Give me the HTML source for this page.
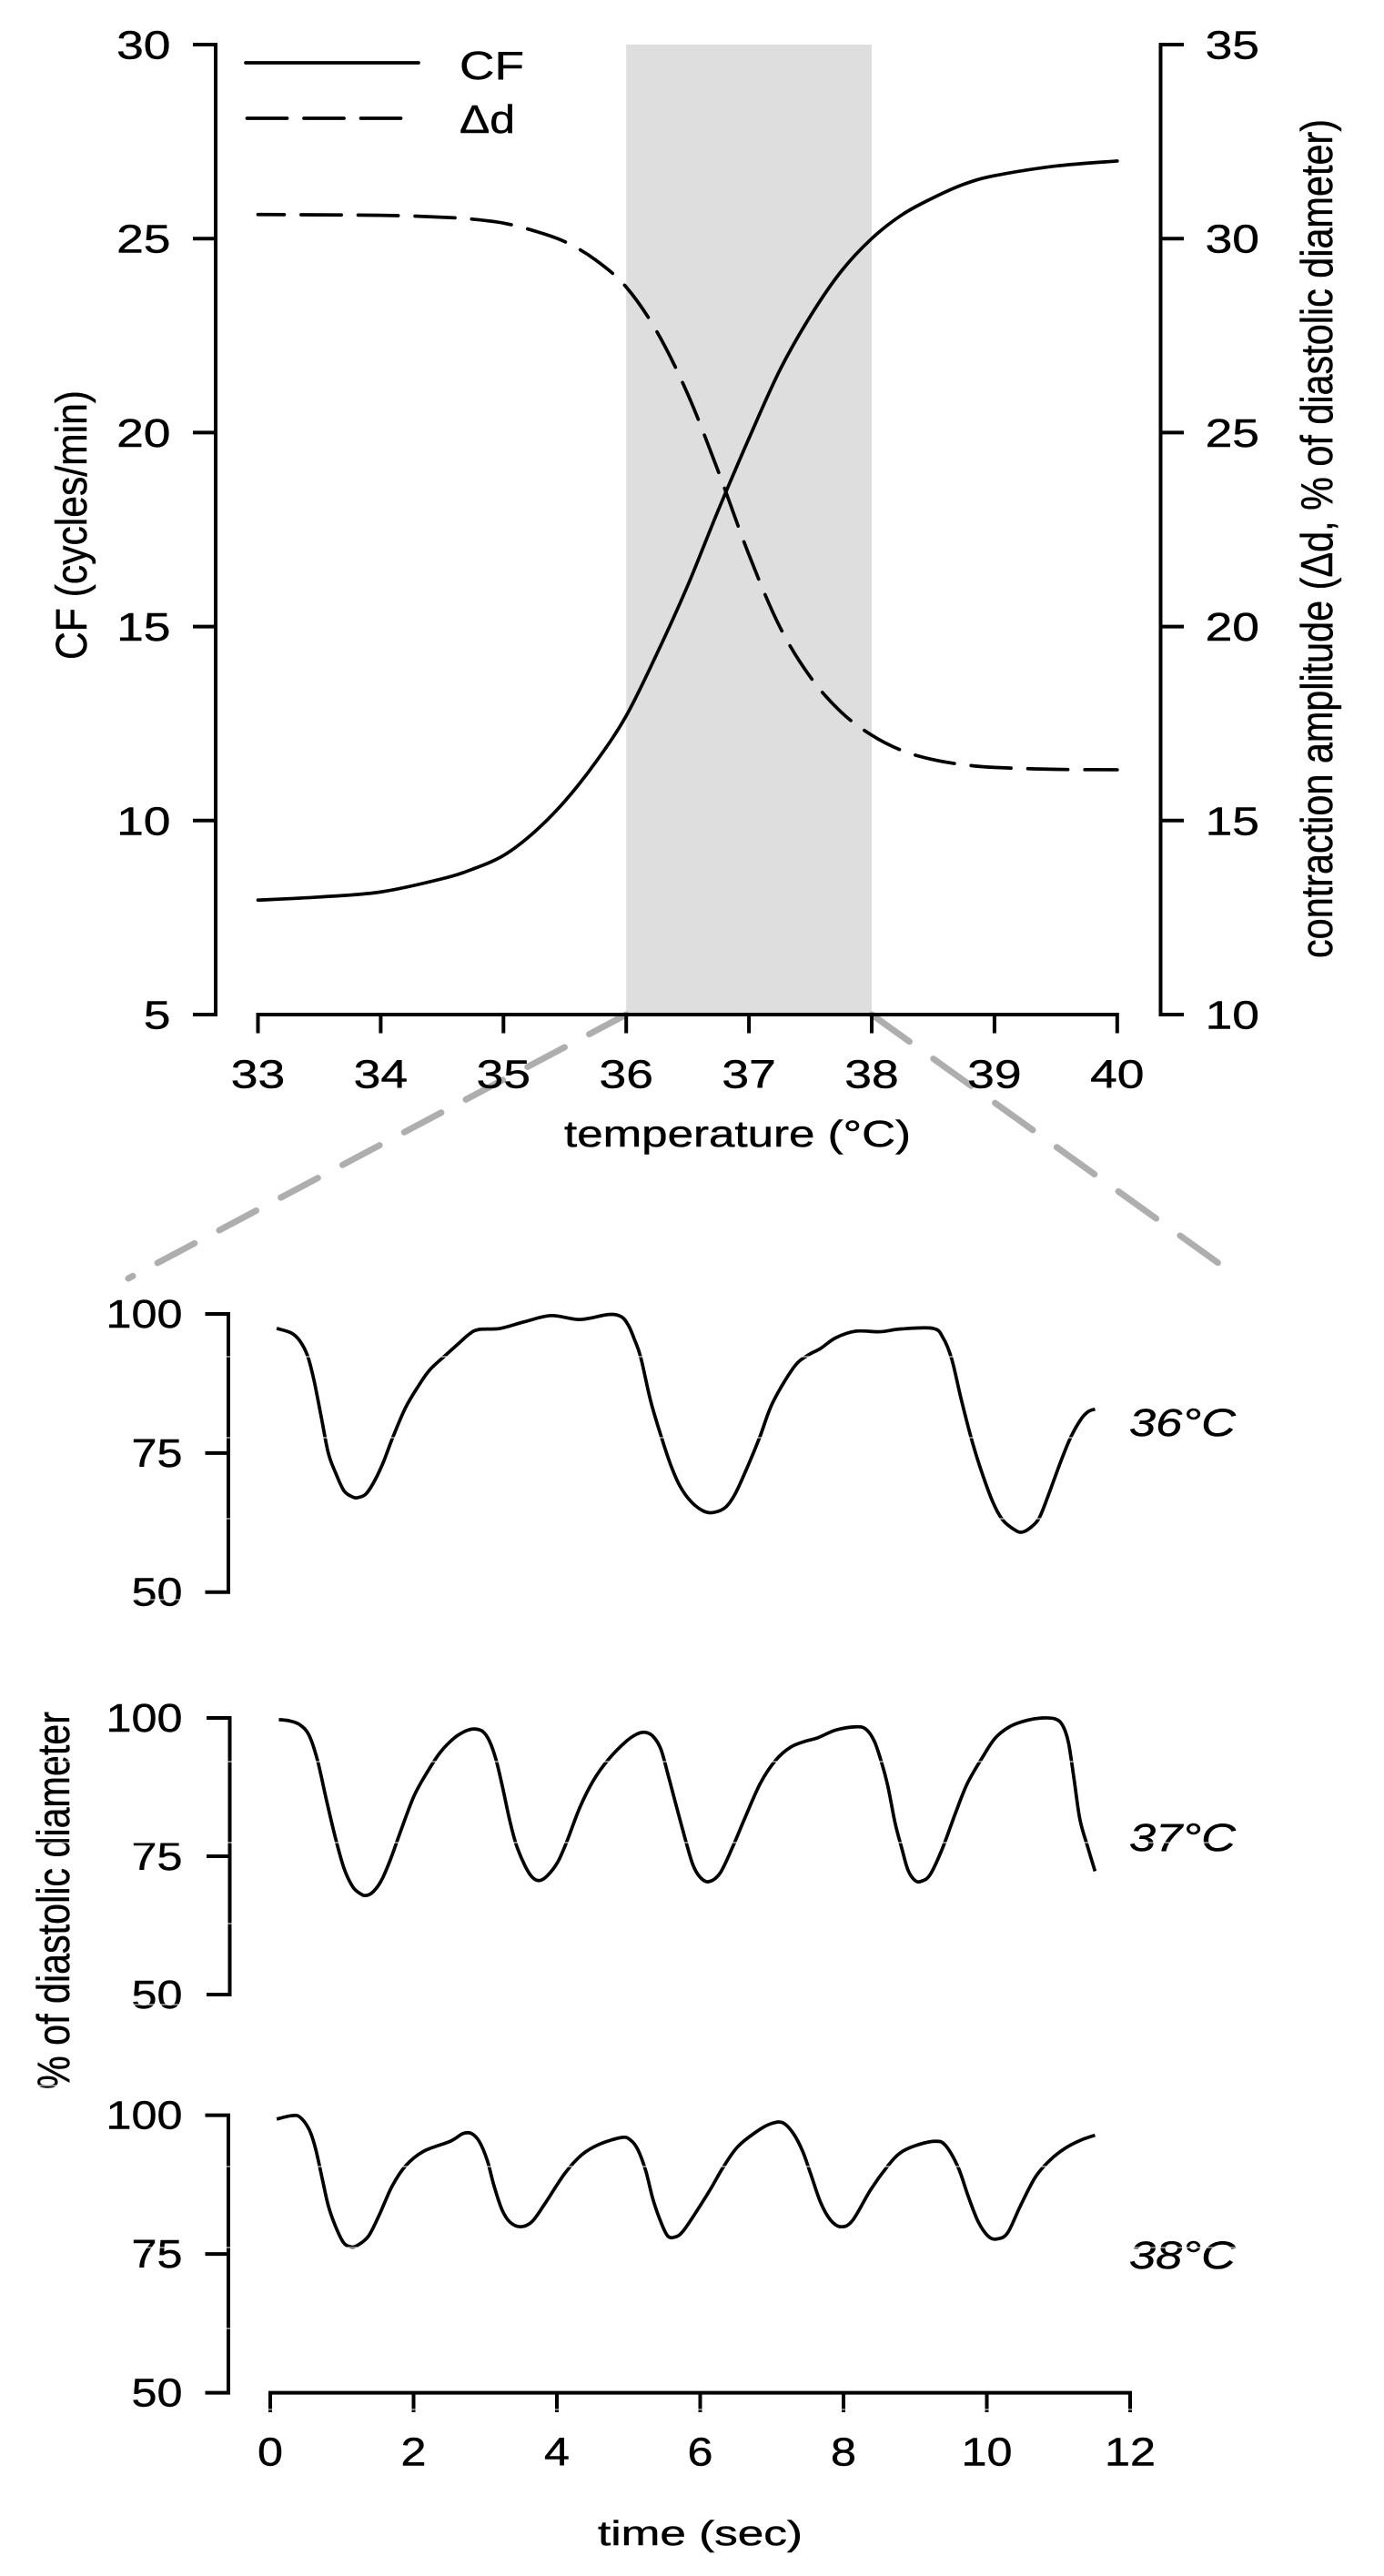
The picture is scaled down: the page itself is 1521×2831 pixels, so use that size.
<!DOCTYPE html>
<html lang="en">
<head>
<meta charset="utf-8">
<title>Contraction frequency and amplitude versus temperature</title>
<style>
html,body{margin:0;padding:0;background:#fff}
svg{display:block}
text{font-family:"Liberation Sans",Arial,sans-serif;fill:#000;stroke:#000;stroke-width:0.45px}
</style>
</head>
<body>
<svg id="fig" xmlns="http://www.w3.org/2000/svg" width="1521" height="2831" viewBox="0 0 1521 2831">
  <rect x="0" y="0" width="1521" height="2831" fill="#fff"/>
  <g id="band"></g>
  <g id="connectors"></g>
  <g id="axes"></g>
  <g id="series"></g>
  <g id="ticklabels"></g>

  <line x1="270" y1="69" x2="460" y2="69" stroke="#000" stroke-width="3.7" stroke-linecap="round"/>
  <line x1="271.5" y1="130" x2="441" y2="130" stroke="#000" stroke-width="3.7" stroke-linecap="round" stroke-dasharray="44 18.5"/>
  <text x="505" y="87" font-size="44" textLength="71" lengthAdjust="spacingAndGlyphs">CF</text>
  <text x="505" y="146" font-size="44" textLength="61" lengthAdjust="spacingAndGlyphs">Δd</text>

  <text transform="translate(95,725) rotate(-90)" font-size="48" textLength="296" lengthAdjust="spacingAndGlyphs">CF (cycles/min)</text>
  <text transform="translate(1464,1053) rotate(-90)" font-size="49" textLength="922" lengthAdjust="spacingAndGlyphs">contraction amplitude (Δd, % of diastolic diameter)</text>
  <text x="620" y="1260" font-size="41" textLength="381" lengthAdjust="spacingAndGlyphs">temperature (°C)</text>
  <text transform="translate(76,2296) rotate(-90)" font-size="50" textLength="415" lengthAdjust="spacingAndGlyphs">% of diastolic diameter</text>
  <text x="657" y="2797" font-size="38" textLength="225" lengthAdjust="spacingAndGlyphs">time (sec)</text>

  <text x="1241" y="1578" font-size="43" font-style="italic" textLength="117" lengthAdjust="spacingAndGlyphs">36°C</text>
  <text x="1241" y="2034" font-size="43" font-style="italic" textLength="117" lengthAdjust="spacingAndGlyphs">37°C</text>
  <text x="1241" y="2493" font-size="43" font-style="italic" textLength="117" lengthAdjust="spacingAndGlyphs">38°C</text>

  <g id="scanlines"></g>
</svg>

<script>
const tempTicks = [33, 34, 35, 36, 37, 38, 39, 40];
const cfTicks = [5, 10, 15, 20, 25, 30];
const ampTicks = [10, 15, 20, 25, 30, 35];
const pctTicks = [50, 75, 100];
const timeTicks = [0, 2, 4, 6, 8, 10, 12];
const bandRange = [36, 38];

const cfTemps = [33, 33.5, 34, 34.5, 34.75, 35, 35.25, 35.5, 35.75, 36, 36.25, 36.5, 36.75, 37, 37.25, 37.5, 37.75, 38, 38.25, 38.5, 38.75, 39, 39.5, 40];
const cfValues = [7.95, 8.03, 8.16, 8.5, 8.75, 9.1, 9.7, 10.5, 11.5, 12.7, 14.3, 16.05, 18.0, 19.85, 21.6, 23.0, 24.15, 25.0, 25.62, 26.05, 26.4, 26.62, 26.87, 27.0];

const ampTemps = [33, 34, 34.5, 34.75, 35, 35.25, 35.5, 35.75, 36, 36.25, 36.5, 36.75, 37, 37.25, 37.5, 37.75, 38, 38.25, 38.5, 38.75, 39, 39.5, 40];
const ampValues = [30.62, 30.6, 30.55, 30.5, 30.4, 30.2, 29.92, 29.45, 28.75, 27.6, 26.0, 24.0, 21.85, 20.0, 18.7, 17.8, 17.2, 16.8, 16.57, 16.44, 16.37, 16.32, 16.31];

const trace36Times = [0.09, 0.29, 0.41, 0.52, 0.61, 0.71, 0.81, 0.91, 1.03, 1.15, 1.23, 1.34, 1.46, 1.58, 1.71, 1.89, 2.08, 2.23, 2.44, 2.63, 2.78, 2.91, 3.21, 3.55, 3.92, 4.32, 4.72, 4.9, 5.0, 5.08, 5.17, 5.31, 5.46, 5.59, 5.72, 5.87, 6.04, 6.18, 6.35, 6.49, 6.67, 6.83, 7.01, 7.3, 7.48, 7.68, 7.89, 8.17, 8.51, 8.8, 9.25, 9.39, 9.51, 9.64, 9.78, 9.91, 10.08, 10.22, 10.4, 10.5, 10.62, 10.73, 10.85, 11.03, 11.17, 11.31, 11.41, 11.51];
const trace36Values = [97.4, 96.6, 95.2, 92.5, 88.1, 81.6, 75.0, 71.5, 68.2, 67.1, 67.0, 67.7, 70.1, 73.4, 77.8, 83.2, 87.3, 90.0, 92.5, 94.7, 96.4, 97.2, 97.4, 98.6, 99.7, 99.0, 99.9, 99.5, 97.9, 95.5, 92.2, 84.3, 77.8, 72.8, 69.0, 66.3, 64.6, 64.3, 65.2, 67.7, 72.8, 77.8, 84.0, 90.3, 92.4, 93.8, 95.7, 96.9, 96.8, 97.3, 97.4, 95.7, 91.9, 84.8, 77.8, 72.3, 66.3, 63.0, 61.1, 60.8, 61.7, 63.3, 67.1, 73.4, 77.8, 81.0, 82.4, 82.9];

const trace37Times = [0.12, 0.26, 0.41, 0.54, 0.66, 0.78, 0.91, 1.03, 1.15, 1.25, 1.33, 1.43, 1.55, 1.68, 1.83, 2.01, 2.2, 2.38, 2.57, 2.72, 2.85, 2.97, 3.06, 3.15, 3.24, 3.34, 3.43, 3.55, 3.65, 3.75, 3.86, 4.01, 4.14, 4.32, 4.51, 4.72, 4.97, 5.12, 5.23, 5.34, 5.45, 5.55, 5.65, 5.8, 5.9, 6.0, 6.12, 6.28, 6.46, 6.63, 6.84, 7.05, 7.26, 7.47, 7.64, 7.89, 8.17, 8.31, 8.43, 8.53, 8.62, 8.72, 8.81, 8.9, 9.0, 9.09, 9.21, 9.38, 9.56, 9.73, 9.95, 10.12, 10.33, 10.57, 10.78, 10.96, 11.06, 11.14, 11.22, 11.3, 11.41, 11.51];
const trace37Values = [99.7, 99.5, 98.8, 96.9, 92.3, 85.4, 78.3, 72.8, 69.5, 68.3, 67.9, 68.5, 70.6, 74.5, 79.9, 86.0, 90.4, 93.9, 96.4, 97.6, 98.0, 97.5, 95.8, 92.5, 87.6, 81.6, 77.2, 73.4, 71.3, 70.6, 71.4, 73.9, 77.7, 83.8, 88.7, 92.5, 95.8, 97.1, 97.4, 96.7, 94.4, 89.8, 84.9, 77.7, 73.4, 71.2, 70.4, 72.0, 76.9, 82.1, 88.2, 92.3, 94.7, 95.8, 96.4, 97.8, 98.4, 98.0, 95.8, 92.0, 87.6, 81.0, 76.6, 72.5, 70.6, 70.5, 71.7, 76.4, 82.7, 88.2, 93.1, 96.4, 98.5, 99.6, 100, 99.8, 98.6, 95.5, 88.7, 81.6, 76.6, 72.3];

const trace38Times = [0.09, 0.29, 0.41, 0.54, 0.63, 0.72, 0.81, 0.91, 1.02, 1.12, 1.21, 1.37, 1.52, 1.7, 1.89, 2.14, 2.51, 2.69, 2.81, 2.92, 3.03, 3.12, 3.23, 3.34, 3.49, 3.65, 3.83, 4.11, 4.35, 4.6, 4.91, 5.03, 5.13, 5.24, 5.34, 5.45, 5.55, 5.66, 5.76, 5.94, 6.14, 6.32, 6.53, 6.84, 7.02, 7.16, 7.3, 7.43, 7.54, 7.68, 7.82, 7.97, 8.13, 8.38, 8.62, 8.79, 9.0, 9.27, 9.42, 9.6, 9.74, 9.88, 10.02, 10.14, 10.29, 10.47, 10.68, 10.89, 11.1, 11.31, 11.51];
const trace38Values = [99.3, 99.9, 99.7, 97.5, 94.1, 88.9, 83.7, 80.0, 77.1, 76.3, 76.5, 78.2, 82.0, 87.2, 90.9, 93.5, 95.3, 96.7, 96.7, 95.2, 91.8, 87.4, 83.1, 80.8, 79.9, 80.8, 84.0, 89.5, 92.9, 94.8, 96.0, 95.5, 93.8, 90.0, 84.9, 80.8, 78.2, 78.1, 79.1, 82.5, 86.6, 90.6, 94.4, 97.5, 98.6, 98.6, 96.7, 93.5, 89.5, 84.3, 81.1, 79.9, 81.1, 86.6, 90.9, 93.2, 94.5, 95.3, 94.6, 90.6, 85.4, 80.8, 78.2, 77.7, 78.8, 83.7, 88.9, 92.0, 94.1, 95.5, 96.4];

const SVGNS = 'http://www.w3.org/2000/svg';
const xTemp = t => 283.5 + (t - 33) * 134.9;
const yCF = v => 1115 - (v - 5) * 42.64;
const yAmp = v => 1115 - (v - 10) * 42.64;
const xTime = t => 297 + t * 78.75;
const panels = [
  { top: 1444, bottom: 1749.7, axisX: 251, name: '36c' },
  { top: 1888, bottom: 2192, axisX: 252.5, name: '37c' },
  { top: 2324.6, bottom: 2629.6, axisX: 251, name: '38c' }
];
const yPct = (panel, v) => panel.bottom - (v - 50) * (panel.bottom - panel.top) / 50;

function make(tag, parent, attrs, name) {
  const el = document.createElementNS(SVGNS, tag);
  for (const k in attrs) el.setAttribute(k, attrs[k]);
  
  
  parent.appendChild(el);
  return el;
}

function smoothPath(xs, ys) {
  let d = 'M' + xs[0].toFixed(2) + ' ' + ys[0].toFixed(2);
  for (let i = 0; i < xs.length - 1; i++) {
    const i0 = Math.max(i - 1, 0), i3 = Math.min(i + 2, xs.length - 1);
    const c1x = xs[i] + (xs[i + 1] - xs[i0]) / 6;
    const c1y = ys[i] + (ys[i + 1] - ys[i0]) / 6;
    const c2x = xs[i + 1] - (xs[i3] - xs[i]) / 6;
    const c2y = ys[i + 1] - (ys[i3] - ys[i]) / 6;
    d += 'C' + c1x.toFixed(2) + ' ' + c1y.toFixed(2) + ' ' + c2x.toFixed(2) + ' ' + c2y.toFixed(2) + ' ' + xs[i + 1].toFixed(2) + ' ' + ys[i + 1].toFixed(2);
  }
  return d;
}

function tickLabel(x, y, str, anchor, charW, name) {
  const el = make('text', document.getElementById('ticklabels'), {
    x: x, y: y, 'font-size': 44, 'text-anchor': anchor,
    textLength: String(str).length * charW, lengthAdjust: 'spacingAndGlyphs'
  }, name);
  el.textContent = str;
}

function axisLine(d, width, name) {
  make('path', document.getElementById('axes'), { d: d, fill: 'none', stroke: '#000', 'stroke-width': width, 'stroke-linecap': 'butt', 'stroke-linejoin': 'miter' }, name);
}

/* shaded temperature band */
make('rect', document.getElementById('band'), {
  x: xTemp(bandRange[0]), y: yCF(30),
  width: xTemp(bandRange[1]) - xTemp(bandRange[0]), height: yCF(5) - yCF(30),
  fill: '#dedede'
}, 'temperature-band');

/* connectors from the band to the lower panels */
make('line', document.getElementById('connectors'), {
  x1: xTemp(bandRange[0]), y1: yCF(5), x2: 141, y2: 1405,
  stroke: '#aeaeae', 'stroke-width': 7, 'stroke-linecap': 'round', 'stroke-dasharray': '46 30.7'
}, 'connector-left');
make('line', document.getElementById('connectors'), {
  x1: xTemp(bandRange[1]), y1: yCF(5), x2: 1350, y2: 1396,
  stroke: '#aeaeae', 'stroke-width': 7, 'stroke-linecap': 'round', 'stroke-dasharray': '51 32.4'
}, 'connector-right');

/* top panel axes */
{
  let d = 'M' + xTemp(tempTicks[0]) + ' 1135.5V' + yCF(5) + 'H' + xTemp(tempTicks[tempTicks.length - 1]) + 'V1135.5';
  tempTicks.slice(1, -1).forEach(t => { d += 'M' + xTemp(t) + ' ' + yCF(5) + 'V1135.5'; });
  axisLine(d, 4, 'x-axis-temperature');
  tempTicks.forEach(t => tickLabel(xTemp(t), 1195.5, t, 'middle', 29.7, 'x-tick-label-temperature'));

  let dl = 'M212 ' + yCF(30) + 'H237V' + yCF(5) + 'H212';
  cfTicks.slice(1, -1).forEach(v => { dl += 'M212 ' + yCF(v) + 'H237'; });
  axisLine(dl, 4, 'y-axis-cf');
  cfTicks.forEach(v => tickLabel(187.5, yCF(v) + 15.5, v, 'end', 29.7, 'y-tick-label-cf'));

  let dr = 'M1301 ' + yAmp(35) + 'H1275.5V' + yAmp(10) + 'H1301';
  ampTicks.slice(1, -1).forEach(v => { dr += 'M1275.5 ' + yAmp(v) + 'H1301'; });
  axisLine(dr, 4, 'y-axis-amplitude');
  ampTicks.forEach(v => tickLabel(1384, yAmp(v) + 15.5, v, 'end', 29.7, 'y-tick-label-amplitude'));
}

/* top panel curves */
make('path', document.getElementById('series'), {
  d: smoothPath(cfTemps.map(xTemp), cfValues.map(yCF)),
  fill: 'none', stroke: '#000', 'stroke-width': 3.7, 'stroke-linecap': 'round'
}, 'cf-curve');
make('path', document.getElementById('series'), {
  d: smoothPath(ampTemps.map(xTemp), ampValues.map(yAmp)),
  fill: 'none', stroke: '#000', 'stroke-width': 3.7, 'stroke-linecap': 'round',
  'stroke-dasharray': '44 18.5', 'stroke-dashoffset': 15
}, 'amplitude-curve');

/* lower panels */
const traceTimes = [trace36Times, trace37Times, trace38Times];
const traceValues = [trace36Values, trace37Values, trace38Values];
panels.forEach((p, i) => {
  let d = 'M' + (p.axisX - 25.5) + ' ' + p.top + 'H' + p.axisX + 'V' + p.bottom + 'H' + (p.axisX - 25.5);
  pctTicks.slice(1, -1).forEach(v => { d += 'M' + (p.axisX - 25.5) + ' ' + yPct(p, v) + 'H' + p.axisX; });
  axisLine(d, 4, 'y-axis-trace-' + p.name);
  pctTicks.forEach(v => tickLabel(200.5, yPct(p, v) + 15, v, 'end', 28, 'y-tick-label-trace-' + p.name));
  make('path', document.getElementById('series'), {
    d: smoothPath(traceTimes[i].map(xTime), traceValues[i].map(v => yPct(p, v))),
    fill: 'none', stroke: '#000', 'stroke-width': 3.7, 'stroke-linecap': 'butt', 'stroke-linejoin': 'round'
  }, 'trace-' + p.name);
});

/* time axis */
{
  const axisY = panels[2].bottom;
  let d = 'M' + xTime(0) + ' 2651V' + axisY + 'H' + xTime(12) + 'V2651';
  timeTicks.slice(1, -1).forEach(t => { d += 'M' + xTime(t) + ' ' + axisY + 'V2651'; });
  axisLine(d, 4, 'x-axis-time');
  timeTicks.forEach(t => tickLabel(xTime(t), 2709.5, t, 'middle', 28, 'x-tick-label-time'));
}

/* fine white scan lines present in the lower half of the source image */
for (let y = 1491; y < 2831; y += 89) {
  make('line', document.getElementById('scanlines'), { x1: 0, x2: 1521, y1: y, y2: y, stroke: '#fff', 'stroke-width': 1.1 }, 'scan-line');
}
</script>
</body>
</html>
